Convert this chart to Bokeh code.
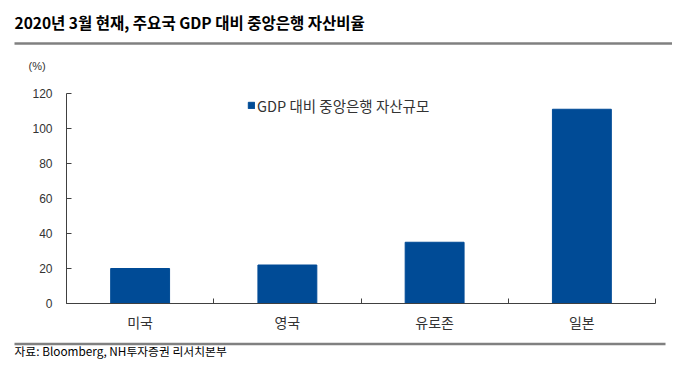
from bokeh.plotting import figure
from bokeh.models import Range1d, FixedTicker, Legend, LegendItem, ColumnDataSource
from bokeh.layouts import column
from bokeh.embed import file_html
from bokeh.resources import INLINE
from bokeh.core.properties import value

# ---- data ----
categories = ["미국", "영국", "유로존", "일본"]
ratios = [20, 22, 35, 111]
y_ticks = [0, 20, 40, 60, 80, 100, 120]
title_text = "2020년 3월 현재, 주요국 GDP 대비 중앙은행 자산비율"
series_name = "GDP 대비 중앙은행 자산규모"
unit_text = "(%)"
source_text = "자료: Bloomberg, NH투자증권 리서치본부"

KR = "Noto Sans CJK KR"
BAR = "#004B96"
RULE = "#808080"
W = 672
TOP_H, MAIN_H, FOOT_H = 80, 254, 40
FL, FR, FT, FB = 66, 655, 93, 306   # frame edges in page pixels

def blank(fig):
    fig.axis.visible = False
    fig.grid.visible = False
    fig.outline_line_color = None
    fig.min_border = 0
    fig.background_fill_color = None
    fig.border_fill_color = None

# ---- top strip: title, rule, unit ----
top = figure(width=W, height=TOP_H, x_range=Range1d(0, W), y_range=Range1d(TOP_H, 0),
             output_backend="svg", toolbar_location=None, frame_align=False)
blank(top)
top.text(x=[14], y=[21.5], text=[title_text], text_font=value(KR), text_font_style="bold",
         text_font_size="15.5px", text_color="#000000", text_baseline="middle", text_align="left")
top.line(x=[14, 672], y=[43, 43], line_color=RULE, line_width=2.5)
top.text(x=[28], y=[65], text=[unit_text], text_font=value("Liberation Sans"),
         text_font_size="11px", text_color="#333333", text_baseline="middle", text_align="left")

# ---- main chart ----
n = len(categories)
xs = [i + 0.5 for i in range(n)]
src = ColumnDataSource(dict(x=xs, top=ratios))
p = figure(width=W, height=MAIN_H, x_range=Range1d(0, n), y_range=Range1d(0, 120),
           output_backend="svg", toolbar_location=None, frame_align=False,
           min_border_left=FL, min_border_right=W - FR,
           min_border_top=FT - TOP_H, min_border_bottom=TOP_H + MAIN_H - FB)
p.outline_line_color = None
p.grid.visible = False
r = p.vbar(x="x", top="top", width=0.4, source=src, fill_color=BAR, line_color=BAR)

p.yaxis.ticker = FixedTicker(ticks=y_ticks)
p.yaxis.major_tick_in = 5
p.yaxis.major_tick_out = 0
p.yaxis.minor_tick_line_color = None
p.yaxis.major_label_standoff = 14
p.yaxis.major_label_text_font = "Liberation Sans"
p.yaxis.major_label_text_font_size = "12px"
p.yaxis.major_label_text_color = "#333333"
p.yaxis.axis_line_color = "#404040"
p.yaxis.major_tick_line_color = "#404040"

p.xaxis.ticker = FixedTicker(ticks=xs, minor_ticks=list(range(n + 1)))
p.xaxis.major_label_overrides = {x: c for x, c in zip(xs, categories)}
p.xaxis.major_tick_in = 0
p.xaxis.major_tick_out = 0
p.xaxis.minor_tick_in = 5
p.xaxis.minor_tick_out = 0
p.xaxis.minor_tick_line_color = "#404040"
p.xaxis.major_label_standoff = 8
p.xaxis.major_label_text_font = KR
p.xaxis.major_label_text_font_size = "14px"
p.xaxis.major_label_text_color = "#333333"
p.xaxis.axis_line_color = "#404040"

legend = Legend(items=[LegendItem(label=series_name, renderers=[r])],
                location=(181, 186), orientation="horizontal",
                glyph_width=8, glyph_height=8, label_height=24, label_standoff=2,
                padding=6, margin=0, border_line_color=None, background_fill_alpha=0,
                label_text_font=KR, label_text_font_size="14.5px", label_text_color="#333333")
p.add_layout(legend)

# ---- footer ----
foot = figure(width=W, height=FOOT_H, x_range=Range1d(0, W), y_range=Range1d(FOOT_H, 0),
              output_backend="svg", toolbar_location=None, frame_align=False)
blank(foot)
foot.line(x=[14, 665], y=[9.5, 9.5], line_color=RULE, line_width=2.5)
foot.text(x=[14], y=[16], text=[source_text], text_font=value(KR),
          text_font_size="11.8px", text_color="#000000", text_baseline="middle", text_align="left")

layout = column(top, p, foot, spacing=0)
open("out.html", "w").write(file_html(layout, INLINE))
